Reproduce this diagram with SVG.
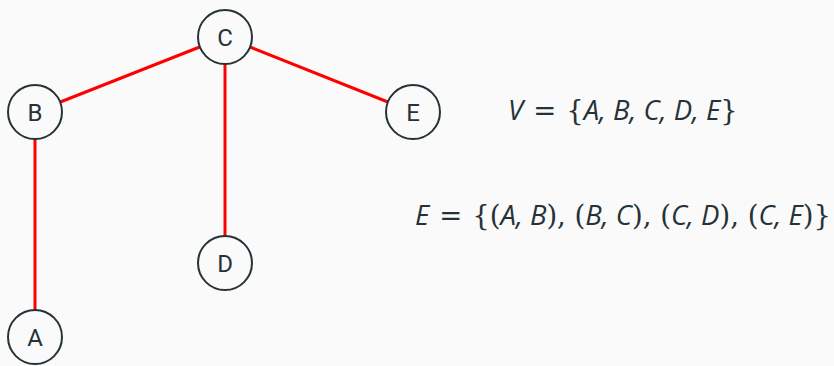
<svg xmlns="http://www.w3.org/2000/svg" width="834" height="366" viewBox="0 0 834 366">
<style>
.bg{fill:#fafafa}
.node circle{fill:#fafafa;stroke:#263238;stroke-width:2}
.node text{font-family:Roboto,"Noto Sans",sans-serif;font-size:24px;fill:#263238;text-anchor:middle;dominant-baseline:central}
.edge{stroke:#ff0000;stroke-width:3;fill:none}
.math{font-family:"Open Sans",Lato,sans-serif;font-size:27.5px;fill:#263238;white-space:pre}
.it{font-style:italic}
.rm{font-family:"DejaVu Serif","Liberation Serif",serif;font-style:normal;font-weight:300}
</style>
<rect class="bg" width="834" height="366"/>
<g id="connectors">
<line class="edge" x1="225" y1="37" x2="35" y2="112"/>
<line class="edge" x1="225" y1="37" x2="413" y2="112"/>
<line class="edge" x1="225" y1="37" x2="225" y2="263"/>
<line class="edge" x1="35" y1="112" x2="35" y2="337"/>
</g>
<g id="node-C" class="node"><circle cx="225" cy="37" r="27"/><text x="225" y="38">C</text></g>
<g id="node-B" class="node"><circle cx="35" cy="112" r="27"/><text x="35" y="113">B</text></g>
<g id="node-E" class="node"><circle cx="413" cy="112" r="27"/><text x="413" y="113">E</text></g>
<g id="node-D" class="node"><circle cx="225" cy="263" r="27"/><text x="225" y="264">D</text></g>
<g id="node-A" class="node"><circle cx="35" cy="337" r="27"/><text x="35" y="338">A</text></g>
<text class="math it" x="508" y="120">V<tspan class="rm" dx="10">=</tspan><tspan class="rm" dx="10">{</tspan>A, B, C, D, E<tspan class="rm">}</tspan></text>
<text class="math it" x="415" y="225">E<tspan class="rm" dx="10">=</tspan><tspan class="rm" dx="10">{(</tspan>A, B<tspan class="rm">), (</tspan>B, C<tspan class="rm">), (</tspan>C, D<tspan class="rm">), (</tspan>C, E<tspan class="rm">)}</tspan></text>
</svg>
